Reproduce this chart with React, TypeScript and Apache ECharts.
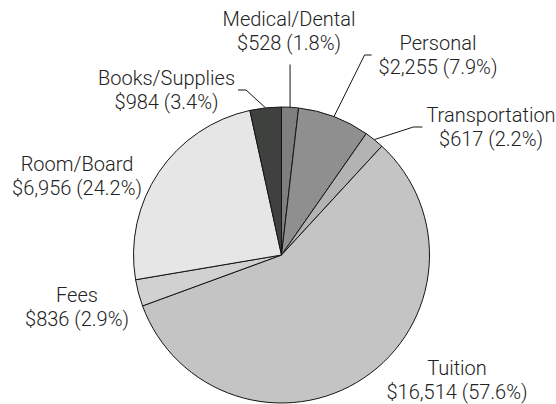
import { useEffect, useRef } from 'react';
import * as echarts from 'echarts';

// ---- data ----
const categories = [
  'Medical/Dental',
  'Personal',
  'Transportation',
  'Tuition',
  'Fees',
  'Room/Board',
  'Books/Supplies',
];
const costs = [528, 2255, 617, 16514, 836, 6956, 984];
const sliceColors = ['#7f7f7f', '#8f8f8f', '#b3b3b3', '#c4c4c4', '#d1d1d1', '#e6e6e6', '#3f413f'];

// ---- label layout (centre of each label block) and leader style ----
type Spot = { x: number; y: number; kind: 'up' | 'right' | 'left' | 'none'; gap: number; run: number };
const labelSpots: Spot[] = [
  { x: 289, y: 30.5, kind: 'up', gap: 10, run: 0 },
  { x: 438, y: 55, kind: 'right', gap: 7, run: 7 },
  { x: 491, y: 127, kind: 'right', gap: 4, run: 9 },
  { x: 457, y: 380, kind: 'none', gap: 0, run: 0 },
  { x: 77, y: 306.5, kind: 'none', gap: 0, run: 0 },
  { x: 77, y: 176, kind: 'none', gap: 0, run: 0 },
  { x: 166.5, y: 90, kind: 'left', gap: 3, run: 8 },
];

export default function App() {
  const ref = useRef<HTMLDivElement>(null);

  useEffect(() => {
    if (!ref.current) return;
    const chart = echarts.init(ref.current, null, { renderer: 'svg' });

    const data = categories.map((name, i) => ({
      name,
      value: costs[i],
      itemStyle: { color: sliceColors[i] },
      labelLine: { show: labelSpots[i].kind !== 'none' },
    }));

    chart.setOption({
      animation: false,
      backgroundColor: '#ffffff',
      series: [
        {
          type: 'pie',
          center: [281.5, 255],
          radius: 148,
          startAngle: 90,
          clockwise: true,
          percentPrecision: 1,
          avoidLabelOverlap: false,
          silent: true,
          emphasis: { disabled: true },
          itemStyle: { borderColor: '#151515', borderWidth: 1 },
          label: {
            show: true,
            position: 'outside',
            fontFamily: 'Roboto',
            fontWeight: 300,
            fontSize: 20,
            lineHeight: 24,
            color: '#222222',
            formatter: (p: any) =>
              `${p.name}\n$${Number(p.value).toLocaleString('en-US')} (${Number(p.percent).toFixed(1)}%)`,
          },
          labelLine: {
            show: true,
            length: 20,
            length2: 8,
            lineStyle: { color: '#151515', width: 1 },
          },
          labelLayout: (p: any) => {
            const s = labelSpots[p.dataIndex];
            const w = p.labelRect ? p.labelRect.width : 0;
            const h = p.labelRect ? p.labelRect.height : 0;
            const res: any = { x: s.x, y: s.y, align: 'center', verticalAlign: 'middle' };
            const pts = p.labelLinePoints;
            if (pts && pts.length && s.kind !== 'none') {
              const edge = pts[0];
              if (s.kind === 'up') {
                const top = [edge[0], s.y + h / 2 + s.gap];
                res.labelLinePoints = [edge, top];
              } else if (s.kind === 'right') {
                const end = [s.x - w / 2 - s.gap, s.y];
                res.labelLinePoints = [edge, [end[0] - s.run, s.y], end];
              } else {
                const end = [s.x + w / 2 + s.gap, s.y];
                res.labelLinePoints = [edge, [end[0] + s.run, s.y], end];
              }
            }
            return res;
          },
          data,
        },
      ],
    });

    return () => chart.dispose();
  }, []);

  return (
    <div
      ref={ref}
      style={{ position: 'fixed', left: 0, top: 0, width: 556, height: 404, background: '#fff' }}
    />
  );
}
